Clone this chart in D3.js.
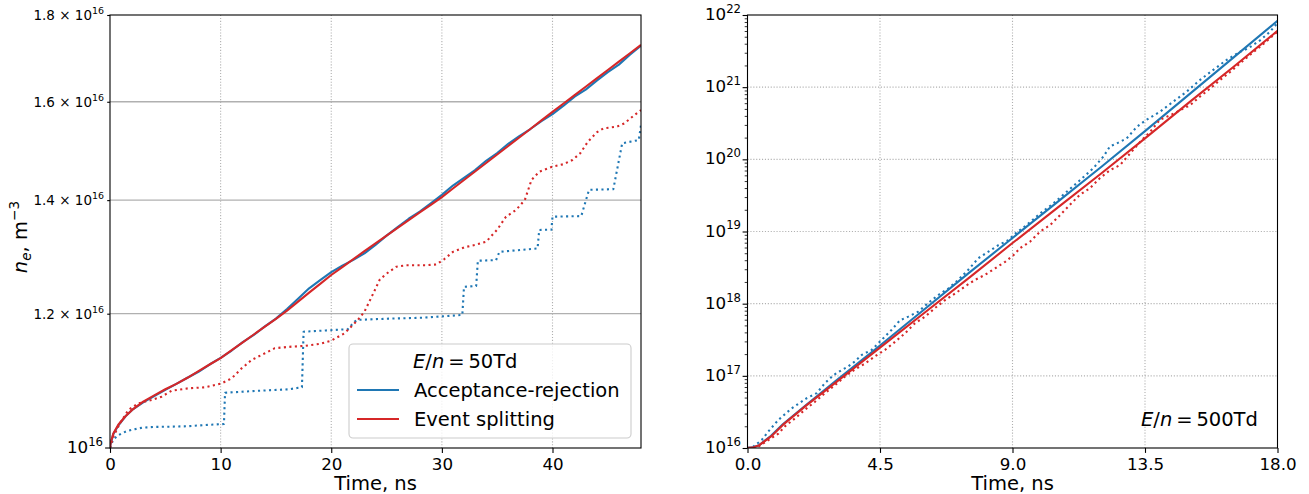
<!DOCTYPE html>
<html><head><meta charset="utf-8">
<script src="https://cdn.jsdelivr.net/npm/d3@7"></script>
<style>
html,body{margin:0;padding:0;background:#fff;}
svg{display:block;font-family:"DejaVu Sans",sans-serif;}
</style></head><body>
<svg id="fig" width="1309" height="494"></svg>
<script>
// ---------- E/n = 50 Td : time (ns), electron density in units of 1e16 m^-3 ----------
const td50ArSolid = [[0,1.000],[0.05,1.005],[0.3,1.019],[0.75,1.031],[1.4,1.044],[2,1.053],[3,1.064],[4,1.073],[5,1.082],[6,1.091],[7,1.100],[8,1.109],[9,1.120],[10,1.130],[11,1.1415],[12,1.1545],[13,1.1660],[14,1.1795],[15,1.1920],[16,1.2075],[17,1.2247],[18,1.2421],[19,1.2558],[20,1.2698],[21,1.2810],[22,1.2909],[23,1.3024],[24,1.3176],[25,1.3341],[26,1.3495],[27,1.3651],[28,1.3782],[29,1.3940],[30,1.4100],[31,1.4280],[32,1.4431],[33,1.4584],[34,1.4768],[35,1.4925],[36,1.5113],[37,1.5273],[38,1.5419],[39,1.5585],[40,1.5735],[41,1.5915],[42,1.6113],[43,1.6265],[44,1.6466],[45,1.6655],[46,1.6828],[47,1.7055],[48,1.7267]];
const td50SplitSolid = [[0,1.000],[0.05,1.006],[0.3,1.020],[0.75,1.032],[1.4,1.044],[2,1.053],[3,1.065],[4,1.074],[5,1.083],[6,1.091],[7,1.100],[8,1.110],[9,1.120],[10,1.1299],[11,1.1420],[12,1.1542],[13,1.1666],[14,1.1791],[15,1.1917],[16,1.2051],[17,1.2198],[18,1.2347],[19,1.2496],[20,1.2647],[21,1.2784],[22,1.2922],[23,1.3063],[24,1.3202],[25,1.3341],[26,1.3482],[27,1.3624],[28,1.3768],[29,1.3912],[30,1.4058],[31,1.4223],[32,1.4388],[33,1.4555],[34,1.4724],[35,1.4895],[36,1.5068],[37,1.5243],[38,1.5419],[39,1.5601],[40,1.5782],[41,1.5963],[42,1.6145],[43,1.6330],[44,1.6516],[45,1.6705],[46,1.6896],[47,1.7089],[48,1.7284]];
const td50ArDotted = [[0,1.000],[0.1,1.005],[0.3,1.011],[0.6,1.016],[1.05,1.020],[1.5,1.023],[2,1.025],[2.9,1.028],[4,1.029],[5.6,1.0294],[7,1.030],[8.6,1.0317],[10.3,1.0331],[10.4,1.0779],[13.1,1.0805],[16.1,1.0829],[17.35,1.0859],[17.5,1.1710],[19.5,1.1730],[21.5,1.1750],[22.1,1.1870],[22.4,1.1900],[25.3,1.1920],[28.3,1.1935],[31.85,1.1980],[32.0,1.2445],[33.1,1.2460],[33.25,1.2895],[34.9,1.2905],[35.2,1.3051],[38.65,1.3112],[38.8,1.3445],[39.9,1.3450],[40.0,1.3689],[42.6,1.3700],[43.3,1.4197],[45.5,1.4210],[46.3,1.5123],[47.8,1.5190],[48.0,1.5505]];
const td50SplitDotted = [[0,1.000],[0.3,1.0155],[0.9,1.0341],[1.66,1.0529],[2.56,1.0626],[3.76,1.0673],[4.67,1.0722],[5.57,1.0809],[7.07,1.0844],[8.58,1.0859],[10.09,1.0917],[11.0,1.0992],[11.9,1.1142],[12.8,1.1269],[14.0,1.1372],[14.9,1.1451],[16.4,1.1475],[17.6,1.1486],[19.0,1.1520],[20.0,1.1569],[21.2,1.1685],[22.4,1.1898],[23.0,1.2032],[23.8,1.2335],[24.4,1.2574],[25.2,1.2700],[25.9,1.2791],[26.8,1.2815],[28.5,1.2815],[29.5,1.2830],[30.2,1.2920],[31.0,1.3050],[32.0,1.3130],[33.0,1.3175],[34.0,1.3231],[35.0,1.3450],[35.8,1.3689],[36.7,1.3814],[37.5,1.4003],[38.1,1.4388],[38.8,1.4551],[40.0,1.4650],[41.0,1.4700],[41.8,1.4784],[42.5,1.4919],[43.2,1.5155],[44.0,1.5350],[44.6,1.5433],[45.8,1.5467],[46.5,1.5538],[47.3,1.5693],[48.0,1.5821]];
const td50TimeTicks = [0, 10, 20, 30, 40];
const td50DensityTicks = [1.2, 1.4, 1.6, 1.8];
const td50DensityTickText = ["1.2", "1.4", "1.6", "1.8"];

// ---------- E/n = 500 Td : time (ns), log10 of electron density (m^-3) ----------
const td500ArSolid = [[0,16.00],[0.2,16.01],[0.4,16.04],[0.8,16.17],[1.2,16.33],[2,16.60],[3,16.93],[4.5,17.42],[6,17.92],[7.5,18.42],[9,18.91],[10.5,19.40],[12,19.89],[13.5,20.39],[15,20.90],[16.5,21.41],[18,21.92]];
const td500SplitSolid = [[0,16.00],[0.2,16.01],[0.4,16.04],[0.8,16.16],[1.2,16.32],[2,16.59],[3,16.91],[4.5,17.39],[6,17.87],[7.5,18.35],[9,18.84],[10.5,19.32],[12,19.80],[13.5,20.29],[15,20.79],[16.5,21.28],[18,21.78]];
const td500ArDotted = [[0,16.00],[0.2,16.02],[0.48,16.11],[0.71,16.23],[1.05,16.39],[1.5,16.55],[2.01,16.69],[2.35,16.76],[2.63,16.90],[2.92,17.01],[3.2,17.08],[3.42,17.13],[3.65,17.20],[3.88,17.29],[4.22,17.36],[4.56,17.50],[4.9,17.64],[5.18,17.77],[5.46,17.82],[5.8,17.89],[6.14,18.01],[6.48,18.12],[6.82,18.21],[7.16,18.33],[7.5,18.47],[7.84,18.63],[8.18,18.72],[8.52,18.81],[8.86,18.88],[9.03,18.95],[9.48,19.09],[9.94,19.25],[10.39,19.39],[10.84,19.55],[11.29,19.71],[11.75,19.88],[12.09,20.04],[12.31,20.18],[12.54,20.22],[12.88,20.29],[13.22,20.45],[13.56,20.55],[14.01,20.66],[14.46,20.80],[14.92,20.94],[15.37,21.10],[15.82,21.24],[16.28,21.38],[16.73,21.49],[17.01,21.54],[17.41,21.65],[17.75,21.77],[18,21.89]];
const td500SplitDotted = [[0,16.00],[0.37,16.02],[0.71,16.11],[1.05,16.20],[1.27,16.30],[1.61,16.41],[1.95,16.53],[2.29,16.64],[2.63,16.76],[2.97,16.87],[3.31,16.99],[3.65,17.09],[3.99,17.17],[4.33,17.27],[4.67,17.36],[5.01,17.47],[5.35,17.59],[5.69,17.73],[6.03,17.82],[6.37,17.94],[6.71,18.05],[7.05,18.14],[7.39,18.24],[7.73,18.33],[8.07,18.40],[8.41,18.49],[8.75,18.58],[9.03,18.67],[9.26,18.77],[9.6,18.86],[9.94,19.00],[10.28,19.09],[10.62,19.23],[10.95,19.37],[11.29,19.51],[11.63,19.60],[11.97,19.74],[12.31,19.85],[12.65,19.92],[12.99,20.08],[13.33,20.24],[13.67,20.38],[14.01,20.55],[14.35,20.61],[14.69,20.68],[15.03,20.75],[15.37,20.87],[15.71,20.98],[16.05,21.10],[16.39,21.21],[16.73,21.33],[17.07,21.45],[17.41,21.56],[17.75,21.68],[18,21.77]];
const td500TimeTicks = [0, 4.5, 9, 13.5, 18];
const td500DecadeTicks = [16, 17, 18, 19, 20, 21, 22];

const legendLabels = ["Acceptance-rejection", "Event splitting"];
const seriesColors = ["#1f77b4", "#d62728"];

const svg = d3.select("#fig");
const FONT_TICK = 16.7, FONT_LABEL = 19.5, FONT_SMALL = 13.5;
const LW = 2.1, DOT = "2.1,3.4";

// ---------- helpers ----------
function powLabel(g, x, yBase, mant, exp, fs) {
  const t = g.append("text").attr("x", x).attr("y", yBase)
    .attr("text-anchor", "end").style("font-size", fs + "px").attr("fill", "#000");
  t.append("tspan").text(mant ? mant + " \u00d7 10" : "10");
  t.append("tspan").attr("dy", -0.42 * fs).style("font-size", (0.7 * fs) + "px").text(exp);
}
function mathLabel(g, x, y, rest, fs) {
  const t = g.append("text").attr("x", x).attr("y", y).style("font-size", fs + "px").attr("fill", "#000");
  t.append("tspan").style("font-style", "italic").text("E");
  t.append("tspan").text("/");
  t.append("tspan").style("font-style", "italic").text("n");
  t.append("tspan").text("\u2009=\u2009" + rest);
  return t;
}
function clip(id, x0, y0, x1, y1) {
  svg.append("clipPath").attr("id", id).append("rect")
    .attr("x", x0).attr("y", y0).attr("width", x1 - x0).attr("height", y1 - y0);
}

// ============ left panel: E/n = 50 Td ============
const L = {x0: 110, x1: 641, y0: 15, y1: 448};
const xL = d3.scaleLinear().domain([0, 48]).range([L.x0, L.x1]);
const yL = d3.scaleLog().domain([1, 1.8]).range([L.y1, L.y0]);
clip("clipL", L.x0, L.y0, L.x1, L.y1);
const gL = svg.append("g");

// grid
gL.append("g").selectAll("line").data(td50TimeTicks.slice(1)).join("line")
  .attr("x1", d => xL(d)).attr("x2", d => xL(d)).attr("y1", L.y0).attr("y2", L.y1)
  .attr("stroke", "#b0b0b0").attr("stroke-width", 1.1).attr("stroke-dasharray", "1.1,1.8");
gL.append("g").selectAll("line").data(td50DensityTicks.slice(0, 3)).join("line")
  .attr("x1", L.x0).attr("x2", L.x1).attr("y1", d => yL(d)).attr("y2", d => yL(d))
  .attr("stroke", "#b0b0b0").attr("stroke-width", 1.3);

const lineL = d3.line().x(d => xL(d[0])).y(d => yL(d[1]));
const curvesL = [
  {data: td50ArSolid, c: 0, dash: null},
  {data: td50SplitSolid, c: 1, dash: null},
  {data: td50ArDotted, c: 0, dash: DOT},
  {data: td50SplitDotted, c: 1, dash: DOT}
];
const cL = gL.append("g").attr("clip-path", "url(#clipL)");
curvesL.forEach(s => {
  cL.append("path").attr("d", lineL(s.data)).attr("fill", "none")
    .attr("stroke", seriesColors[s.c]).attr("stroke-width", LW)
    .attr("stroke-dasharray", s.dash).attr("stroke-linejoin", "round");
});

// axes
const axBL = gL.append("g").attr("transform", `translate(0,${L.y1})`)
  .call(d3.axisBottom(xL).tickValues(td50TimeTicks).tickSize(4.9).tickPadding(4.9).tickSizeOuter(0));
axBL.select(".domain").remove();
axBL.selectAll("text").style("font-size", FONT_TICK + "px").style("font-family", "DejaVu Sans").attr("fill", "#000");
axBL.selectAll("line").attr("stroke", "#000").attr("stroke-width", 1.1);

const axLL = gL.append("g").attr("transform", `translate(${L.x0},0)`)
  .call(d3.axisLeft(yL).tickValues(td50DensityTicks).tickSize(2.8).tickFormat(() => "").tickSizeOuter(0));
axLL.select(".domain").remove();
axLL.selectAll("line").attr("stroke", "#000").attr("stroke-width", 1.1);
td50DensityTicks.forEach((v, i) => powLabel(gL, 104, yL(v) + 0.36 * FONT_SMALL, td50DensityTickText[i], "16", FONT_SMALL));
gL.append("line").attr("x1", L.x0 - 4.9).attr("x2", L.x0).attr("y1", yL(1)).attr("y2", yL(1)).attr("stroke", "#000").attr("stroke-width", 1.1);
powLabel(gL, 103, yL(1) + 0.36 * FONT_TICK - 1, null, "16", FONT_TICK);

gL.append("rect").attr("x", L.x0).attr("y", L.y0).attr("width", L.x1 - L.x0).attr("height", L.y1 - L.y0)
  .attr("fill", "none").attr("stroke", "#000").attr("stroke-width", 1.1);

// axis titles
gL.append("text").attr("x", (L.x0 + L.x1) / 2).attr("y", 490).attr("text-anchor", "middle")
  .style("font-size", FONT_LABEL + "px").text("Time, ns");
const yt = gL.append("text").attr("transform", "translate(27,237) rotate(-90)").attr("text-anchor", "middle")
  .style("font-size", FONT_LABEL + "px");
yt.append("tspan").style("font-style", "italic").text("n");
yt.append("tspan").style("font-style", "italic").style("font-size", (0.7 * FONT_LABEL) + "px").attr("dy", 4).text("e");
yt.append("tspan").attr("dy", -4).text(", m");
yt.append("tspan").style("font-size", (0.7 * FONT_LABEL) + "px").attr("dy", -8).text("\u22123");

// legend
const lg = gL.append("g");
lg.append("rect").attr("x", 349).attr("y", 344).attr("width", 282).attr("height", 94).attr("rx", 4)
  .attr("fill", "#fff").attr("fill-opacity", 0.8).attr("stroke", "#cccccc").attr("stroke-width", 1.1);
mathLabel(lg, 413, 368, "50Td", FONT_LABEL);
legendLabels.forEach((lab, i) => {
  const yy = 390 + i * 29;
  lg.append("line").attr("x1", 357).attr("x2", 399).attr("y1", yy).attr("y2", yy)
    .attr("stroke", seriesColors[i]).attr("stroke-width", LW);
  lg.append("text").attr("x", 414).attr("y", yy + 7).style("font-size", FONT_LABEL + "px").text(lab);
});

// ============ right panel: E/n = 500 Td ============
const R = {x0: 747.5, x1: 1277.5, y0: 15, y1: 448};
const xR = d3.scaleLinear().domain([0, 18]).range([R.x0, R.x1]);
const yR = d3.scaleLog().domain([1e16, 1e22]).range([R.y1, R.y0]);
clip("clipR", R.x0, R.y0, R.x1, R.y1);
const gR = svg.append("g");

gR.append("g").selectAll("line").data(td500TimeTicks.slice(1, -1)).join("line")
  .attr("x1", d => xR(d)).attr("x2", d => xR(d)).attr("y1", R.y0).attr("y2", R.y1)
  .attr("stroke", "#b0b0b0").attr("stroke-width", 1.1).attr("stroke-dasharray", "1.1,1.8");
gR.append("g").selectAll("line").data(td500DecadeTicks.slice(1, -1)).join("line")
  .attr("x1", R.x0).attr("x2", R.x1).attr("y1", d => yR(Math.pow(10, d))).attr("y2", d => yR(Math.pow(10, d)))
  .attr("stroke", "#b0b0b0").attr("stroke-width", 1.1).attr("stroke-dasharray", "1.1,1.8");

const lineR = d3.line().x(d => xR(d[0])).y(d => yR(Math.pow(10, d[1])));
const curvesR = [
  {data: td500ArSolid, c: 0, dash: null},
  {data: td500SplitSolid, c: 1, dash: null},
  {data: td500ArDotted, c: 0, dash: DOT},
  {data: td500SplitDotted, c: 1, dash: DOT}
];
const cR = gR.append("g").attr("clip-path", "url(#clipR)");
curvesR.forEach(s => {
  cR.append("path").attr("d", lineR(s.data)).attr("fill", "none")
    .attr("stroke", seriesColors[s.c]).attr("stroke-width", LW)
    .attr("stroke-dasharray", s.dash).attr("stroke-linejoin", "round");
});

const axBR = gR.append("g").attr("transform", `translate(0,${R.y1})`)
  .call(d3.axisBottom(xR).tickValues(td500TimeTicks).tickFormat(d3.format(".1f"))
    .tickSize(4.9).tickPadding(4.9).tickSizeOuter(0));
axBR.select(".domain").remove();
axBR.selectAll("text").style("font-size", FONT_TICK + "px").style("font-family", "DejaVu Sans").attr("fill", "#000");
axBR.selectAll("line").attr("stroke", "#000").attr("stroke-width", 1.1);

// minor log ticks
const minorR = [];
td500DecadeTicks.slice(0, -1).forEach(e => { for (let k = 2; k <= 9; k++) minorR.push(k * Math.pow(10, e)); });
const axMinR = gR.append("g").attr("transform", `translate(${R.x0},0)`)
  .call(d3.axisLeft(yR).tickValues(minorR).tickSize(2.8).tickFormat(() => "").tickSizeOuter(0));
axMinR.select(".domain").remove();
axMinR.selectAll("line").attr("stroke", "#000").attr("stroke-width", 0.8);
const axMajR = gR.append("g").attr("transform", `translate(${R.x0},0)`)
  .call(d3.axisLeft(yR).tickValues(td500DecadeTicks.map(e => Math.pow(10, e))).tickSize(4.9).tickFormat(() => "").tickSizeOuter(0));
axMajR.select(".domain").remove();
axMajR.selectAll("line").attr("stroke", "#000").attr("stroke-width", 1.1);
td500DecadeTicks.forEach(e => powLabel(gR, 741, yR(Math.pow(10, e)) + 0.36 * FONT_TICK - 1, null, String(e), FONT_TICK));

gR.append("rect").attr("x", R.x0).attr("y", R.y0).attr("width", R.x1 - R.x0).attr("height", R.y1 - R.y0)
  .attr("fill", "none").attr("stroke", "#000").attr("stroke-width", 1.1);

gR.append("text").attr("x", (R.x0 + R.x1) / 2).attr("y", 490).attr("text-anchor", "middle")
  .style("font-size", FONT_LABEL + "px").text("Time, ns");
mathLabel(gR, 1141, 426, "500Td", FONT_LABEL);
</script>
</body></html>
